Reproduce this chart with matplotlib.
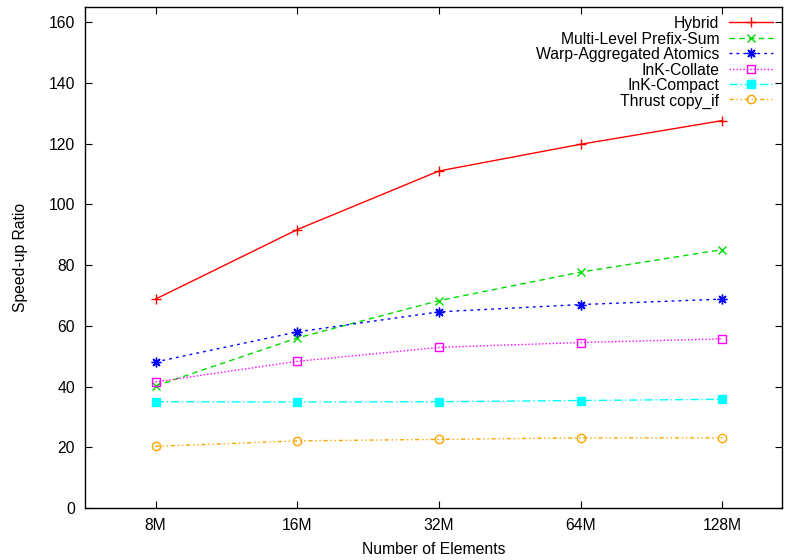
import matplotlib
matplotlib.use("Agg")
import matplotlib.pyplot as plt

categories = ["8M", "16M", "32M", "64M", "128M"]
hybrid = [68.8, 91.7, 111.0, 119.8, 127.6]
multi_level = [40.2, 56.0, 68.3, 77.7, 85.1]
warp_agg = [48.1, 58.0, 64.6, 67.0, 68.8]
ink_collate = [41.5, 48.3, 52.9, 54.5, 55.7]
ink_compact = [35.0, 34.9, 35.0, 35.4, 35.8]
thrust = [20.3, 22.1, 22.6, 23.1, 23.1]

labels = ["Hybrid", "Multi-Level Prefix-Sum", "Warp-Aggregated Atomics",
          "InK-Collate", "InK-Compact", "Thrust copy_if"]

plt.rcParams['font.family'] = ['Liberation Sans', 'DejaVu Sans']
FS = 11.3
plt.rcParams['font.size'] = FS

fig = plt.figure(figsize=(7.85, 5.6), dpi=100)
ax = fig.add_axes([84.7 / 785, 52 / 560, (782 - 84.7) / 785, (508 - 7) / 560])

x = list(range(len(categories)))
styles = [
    dict(color="#ff0000", ls="-", marker="+", ms=7, mfc="none"),
    dict(color="#00dd00", ls=(0, (4, 3)), marker="x", ms=6, mfc="none"),
    dict(color="#0000ff", ls=(0, (2, 3)), marker=(8, 2, 0), ms=7, mfc="none"),
    dict(color="#ff00ff", ls=(0, (1, 1.5)), marker="s", ms=6, mfc="none"),
    dict(color="#00ffff", ls=(0, (6, 2, 1, 2)), marker="s", ms=6, mfc="#00ffff"),
    dict(color="#ffa500", ls=(0, (3, 2, 1, 2, 1, 2)), marker="o", ms=6, mfc="none"),
]
series = [hybrid, multi_level, warp_agg, ink_collate, ink_compact, thrust]
lines = []
for vals, lab, st in zip(series, labels, styles):
    ln, = ax.plot(x, vals, label=lab, lw=1.0, mew=1.0, **st)
    lines.append(ln)

ax.set_xlim(-0.5, 4.42)
ax.set_ylim(0, 165)
ax.set_xticks(x)
ax.set_xticklabels(categories)
ax.set_yticks(range(0, 161, 20))
ax.tick_params(direction="in", length=5, width=0.8, top=True, right=True,
               labelsize=FS, pad=7)
for s in ax.spines.values():
    s.set_linewidth(1.0)

ax.set_xlabel("Number of Elements", fontsize=FS, labelpad=7)
ax.set_ylabel("Speed-up Ratio", fontsize=FS, labelpad=15)

# legend: handles on the right, labels drawn right-aligned to their left
leg = ax.legend(lines, [" "] * len(lines), loc="upper right", frameon=False,
                markerfirst=False, handlelength=2.8, handletextpad=0.0,
                labelspacing=0.03, borderaxespad=0.0, borderpad=0.55,
                fontsize=FS)
fig.canvas.draw()
renderer = fig.canvas.get_renderer()
for h, lab in zip(leg.get_lines(), labels):
    xd, yd = h.get_xdata(), h.get_ydata()
    pts = h.get_transform().transform(list(zip(xd, yd)))
    left = pts[:, 0].min()
    yc = pts[:, 1].mean()
    fig.text((left - 10) / fig.bbox.width, yc / fig.bbox.height, lab,
             ha="right", va="center_baseline", fontsize=FS)

fig.savefig("out.png", dpi=100)
